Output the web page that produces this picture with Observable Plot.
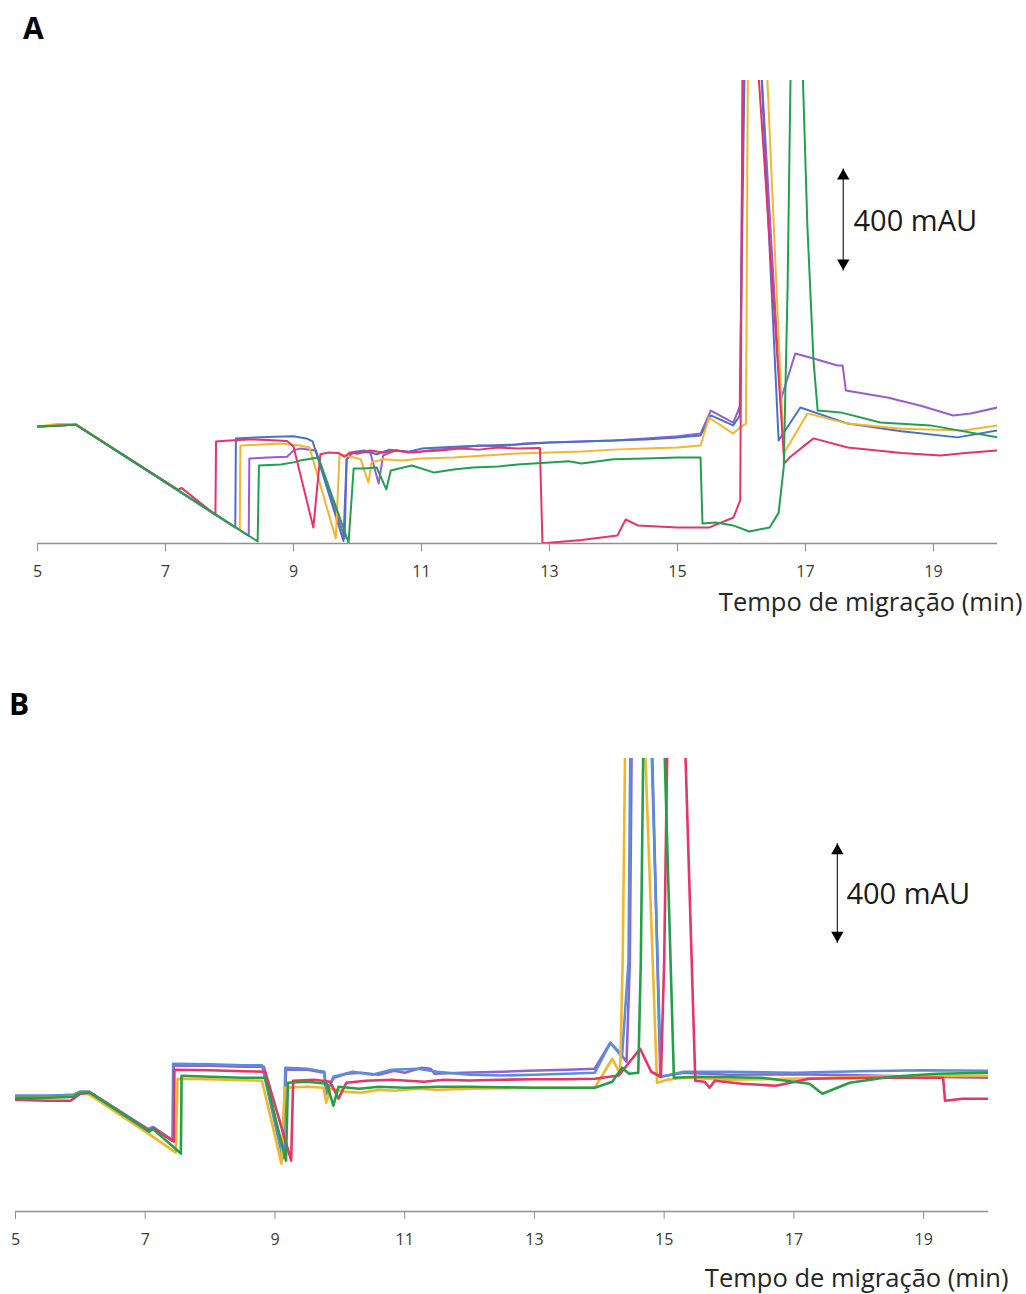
<!DOCTYPE html>
<html>
<head>
<meta charset="utf-8">
<script src="https://cdn.jsdelivr.net/npm/d3@7"></script>
<script src="https://cdn.jsdelivr.net/npm/@observablehq/plot@0.6"></script>
<style>
  html, body { margin: 0; padding: 0; background: #fff; }
  body { position: relative; width: 1026px; height: 1294px; overflow: hidden; font-family: "Open Sans", sans-serif; }
  .tag { position: absolute; font: bold 30px/30px "Open Sans", Arial, sans-serif; color: #000; }
  #pa, #pb { width: 1026px; }
  svg { display: block; }
</style>
</head>
<body>
<div class="tag" style="left:23px; top:13px;">A</div>
<div class="tag" style="left:9px; top:689px;">B</div>
<div id="pa"></div>
<div id="pb"></div>
<script>
// ---------- shared ----------
const xTicks = [5, 7, 9, 11, 13, 15, 17, 19];
const seriesNames = ["purple", "blue", "yellow", "red", "green"];
const seriesColors = ["#9a5bd6", "#4b70c8", "#f5b52e", "#e8336a", "#21a04d"];
const seriesColorsB = ["#8f62d8", "#5a8fd8", "#f2b62c", "#e63566", "#24a048"];
const scaleBarMAU = 400;
const axisTitle = "Tempo de migração (min)";
const scaleLabel = "400 mAU";

// ---------- Panel A : [time (min), absorbance (mAU)] ----------
const A_purple = [[5,459],[5.3,462],[5.6,466],[8.30,30],[8.31,333],[8.6,337],[8.9,340],[9.0,365],[9.1,372],[9.35,365],[9.8,20],[9.83,330],[9.95,360],[10.2,357],[10.33,235],[10.4,345],[10.6,365],[10.9,357],[11.2,368],[11.5,372],[11.9,384],[12.2,380],[12.6,392],[13.0,396],[13.5,400],[14.0,404],[14.5,412],[15.0,420],[15.36,431],[15.52,521],[15.87,474],[15.98,540],[16.02,1900],[16.16,2800],[16.3,1900],[16.61,560],[16.84,745],[17.125,725],[17.5,698],[17.58,698],[17.63,600],[18.28,572],[18.8,540],[19.31,502],[19.58,510],[20,533]];
const A_blue = [[5,459],[5.3,462],[5.6,466],[8.09,62],[8.10,412],[8.4,416],[8.7,418],[9.0,420],[9.2,412],[9.3,400],[9.78,10],[9.83,330],[9.9,357],[10.1,365],[10.3,350],[10.5,368],[10.8,360],[11.0,372],[11.3,376],[11.6,380],[12.0,384],[12.5,388],[13.0,396],[13.5,400],[14.0,404],[14.5,408],[15.0,416],[15.36,423],[15.52,502],[15.87,463],[15.97,500],[16.05,1900],[16.17,2800],[16.3,1900],[16.58,404],[16.92,533],[17.66,470],[18.5,440],[19.375,416],[20,443]];
const A_yellow = [[5,459],[5.3,468],[5.6,468],[8.16,53],[8.17,384],[8.5,388],[8.8,392],[9.1,384],[9.25,376],[9.66,20],[9.72,350],[9.9,340],[10.05,330],[10.17,239],[10.22,318],[10.4,330],[10.7,325],[11.0,333],[11.5,337],[12.0,345],[12.5,353],[13.0,357],[13.5,361],[14.0,368],[14.5,372],[15.0,376],[15.36,384],[15.49,494],[15.87,431],[15.98,455],[16.07,470],[16.1,1900],[16.25,2800],[16.39,1900],[16.66,353],[17.03,510],[17.66,470],[18.5,450],[19.47,443],[20,463]];
const A_red = [[5,459],[5.3,462],[5.6,466],[7.2,210],[7.25,218],[7.78,112],[7.79,400],[8.0,404],[8.3,408],[8.6,406],[8.9,402],[9.0,380],[9.31,63],[9.42,350],[9.55,357],[9.7,355],[9.8,340],[9.88,357],[10.0,352],[10.2,365],[10.4,357],[10.6,365],[10.8,357],[11.0,361],[11.3,365],[11.6,372],[11.9,368],[12.2,376],[12.5,372],[12.85,374],[12.89,0],[13.0,3],[13.5,14],[14.06,31],[14.19,94],[14.38,71],[15.0,63],[15.5,63],[15.875,102],[15.98,169],[16.02,1900],[16.14,2800],[16.25,1900],[16.67,314],[16.75,337],[17.125,412],[17.66,376],[18.5,355],[19.11,345],[19.5,355],[20,365]];
const A_green = [[5,459],[5.3,462],[5.6,466],[8.44,8],[8.46,306],[8.8,310],[9.0,318],[9.1,325],[9.39,337],[9.86,4],[9.94,294],[10.1,294],[10.3,298],[10.45,212],[10.52,286],[10.85,306],[11.2,278],[11.5,290],[11.8,298],[12.2,302],[12.5,310],[13.0,318],[13.3,322],[13.5,314],[14.0,330],[14.5,333],[15.0,337],[15.36,337],[15.39,78],[15.6,82],[15.87,71],[16.12,47],[16.44,63],[16.58,120],[16.66,300],[16.72,1000],[16.77,1900],[16.88,2800],[16.95,1900],[17.03,1240],[17.125,717],[17.19,521],[17.55,514],[18.17,474],[18.95,463],[20,416]];

// ---------- Panel B ----------
const B_purple = [[5,464],[5.5,464],[5.9,468],[6.0,480],[6.13,480],[7.04,330],[7.12,338],[7.43,284],[7.44,584],[8.0,584],[8.5,580],[8.83,580],[9.13,216],[9.17,568],[9.5,568],[9.76,556],[9.79,484],[9.91,536],[10.1,552],[10.33,556],[10.6,548],[10.84,564],[11.0,556],[11.26,576],[11.4,572],[11.46,552],[11.88,556],[12.5,560],[12.91,564],[13.5,568],[13.93,572],[14.17,676],[14.3,640],[14.42,600],[14.47,1000],[14.5,1900],[14.66,2900],[14.81,1900],[14.94,540],[15.3,556],[16,548],[17,550],[18,546],[19,540],[20,536]];
const B_blue = [[5,464],[5.5,464],[5.9,468],[6.0,480],[6.13,480],[7.04,330],[7.12,338],[7.42,284],[7.43,592],[8.0,590],[8.5,586],[8.8,586],[9.12,212],[9.16,576],[9.5,572],[9.76,560],[9.79,470],[9.9,540],[10.2,560],[10.5,548],[10.8,568],[11.2,572],[11.5,560],[12,548],[12.5,545],[13,548],[13.5,552],[13.93,556],[14.17,676],[14.35,620],[14.45,1000],[14.48,1900],[14.64,2900],[14.8,1900],[14.95,540],[15.3,560],[16,560],[17,556],[18,562],[19,566],[20,564]];
const B_yellow = [[5,456],[5.5,456],[5.9,460],[6.0,476],[6.13,470],[7.06,310],[7.47,236],[7.5,532],[8.0,530],[8.5,526],[8.8,524],[9.10,192],[9.15,496],[9.5,500],[9.75,496],[9.79,436],[9.86,492],[10.1,480],[10.33,476],[10.6,488],[10.84,484],[11.2,492],[11.5,488],[12,492],[12.5,494],[13,496],[13.93,496],[14.2,612],[14.32,552],[14.36,1000],[14.4,1900],[14.55,2900],[14.7,1900],[14.89,516],[15.05,528],[15.3,536],[16,528],[17,532],[18,540],[19,544],[20,544]];
const B_red = [[5,448],[5.5,444],[5.85,444],[6.0,472],[6.15,476],[7.06,324],[7.12,334],[7.44,280],[7.45,568],[8.0,566],[8.5,562],[8.85,560],[9.25,204],[9.28,524],[9.6,528],[9.85,520],[9.98,452],[10.1,516],[10.4,524],[10.8,528],[11.3,520],[11.6,528],[12,525],[12.5,528],[13,530],[13.5,530],[13.93,532],[14.3,545],[14.63,652],[14.8,560],[14.95,540],[15.0,1000],[15.05,1900],[15.2,2900],[15.32,1900],[15.48,524],[15.62,520],[15.7,496],[15.78,524],[16.2,512],[16.72,504],[17.24,532],[18.3,536],[19.3,536],[19.33,444],[19.6,452],[20,452]];
const B_green = [[5,456],[5.5,456],[5.9,460],[6.0,476],[6.15,476],[7.06,320],[7.12,330],[7.55,232],[7.56,544],[8.0,540],[8.5,536],[8.85,536],[9.17,204],[9.2,516],[9.5,520],[9.8,512],[9.9,424],[9.98,500],[10.3,492],[10.6,500],[11,496],[11.5,500],[12,500],[12.5,498],[13,496],[13.93,496],[14.2,520],[14.35,576],[14.46,552],[14.6,556],[14.64,1000],[14.68,1900],[14.84,2900],[15.0,1900],[15.15,536],[15.5,540],[16.5,536],[17.24,512],[17.44,472],[17.86,516],[18.5,540],[19.2,552],[20,556]];

// scale bar anchors (data units: time, mAU)
const barA = {t: 17.59, base: 1070, labelT: 17.75, labelV: 1263};
const barB = {t: 17.67, base: 1076, labelT: 17.81, labelV: 1269};

function panel(cfg) {
  const marks = [
    Plot.ruleY([0], {stroke: "#8f8f8f", strokeWidth: 1.3}),
    Plot.axisX(xTicks, {tickSize: 8, tickFormat: () => "", stroke: "#8f8f8f", label: null}),
    Plot.text(xTicks, {x: d => d, text: d => String(d), frameAnchor: "bottom", dy: 33, fontSize: 16, fill: "#3a3a3a"}),
  ];
  cfg.series.forEach((data, i) => {
    marks.push(Plot.line(data, {x: d => d[0], y: d => d[1], stroke: cfg.colors[i], strokeWidth: cfg.sw, clip: true, strokeLinejoin: "round"}));
  });
  const bar = cfg.bar;
  marks.push(
    Plot.link([bar], {x1: d => d.t, x2: d => d.t, y1: d => d.base, y2: d => d.base + scaleBarMAU, stroke: "#333", strokeWidth: 1.3}),
    Plot.dot([bar], {x: d => d.t, y: d => d.base + scaleBarMAU, symbol: "triangle", r: 4.6, fill: "#000", stroke: null, dy: 7.5}),
    Plot.dot([bar], {x: d => d.t, y: d => d.base, symbol: "triangle", r: 4.6, fill: "#000", stroke: null, dy: -7.5, rotate: 180}),
    Plot.text([scaleLabel], {x: () => bar.labelT, y: () => bar.labelV, text: d => d, textAnchor: "start", fontSize: 29, fill: "#1a1a1a"}),
    Plot.text([axisTitle], {frameAnchor: "bottom-right", text: d => d, textAnchor: "end", dx: cfg.titleDx, dy: cfg.titleDy, fontSize: 25.5, fill: "#262626"})
  );
  return Plot.plot({
    width: 1026,
    height: cfg.height,
    marginTop: cfg.mt, marginBottom: cfg.mb, marginLeft: cfg.ml, marginRight: cfg.mr,
    x: {domain: [5, 20]},
    y: {domain: [0, 1815], axis: null},
    style: {fontFamily: "'Open Sans', sans-serif", background: "#fff", overflow: "visible"},
    marks
  });
}

document.getElementById("pa").append(panel({
  series: [A_purple, A_blue, A_yellow, A_red, A_green],
  colors: seriesColors, sw: 2,
  height: 640, mt: 80, mb: 97, ml: 37, mr: 29,
  bar: barA, titleDx: 25, titleDy: 67
}));
document.getElementById("pb").append(panel({
  series: [B_purple, B_blue, B_yellow, B_red, B_green],
  colors: seriesColorsB, sw: 2.6,
  height: 654, mt: 118, mb: 83, ml: 15, mr: 38,
  bar: barB, titleDx: 20, titleDy: 75
}));
</script>
</body>
</html>
